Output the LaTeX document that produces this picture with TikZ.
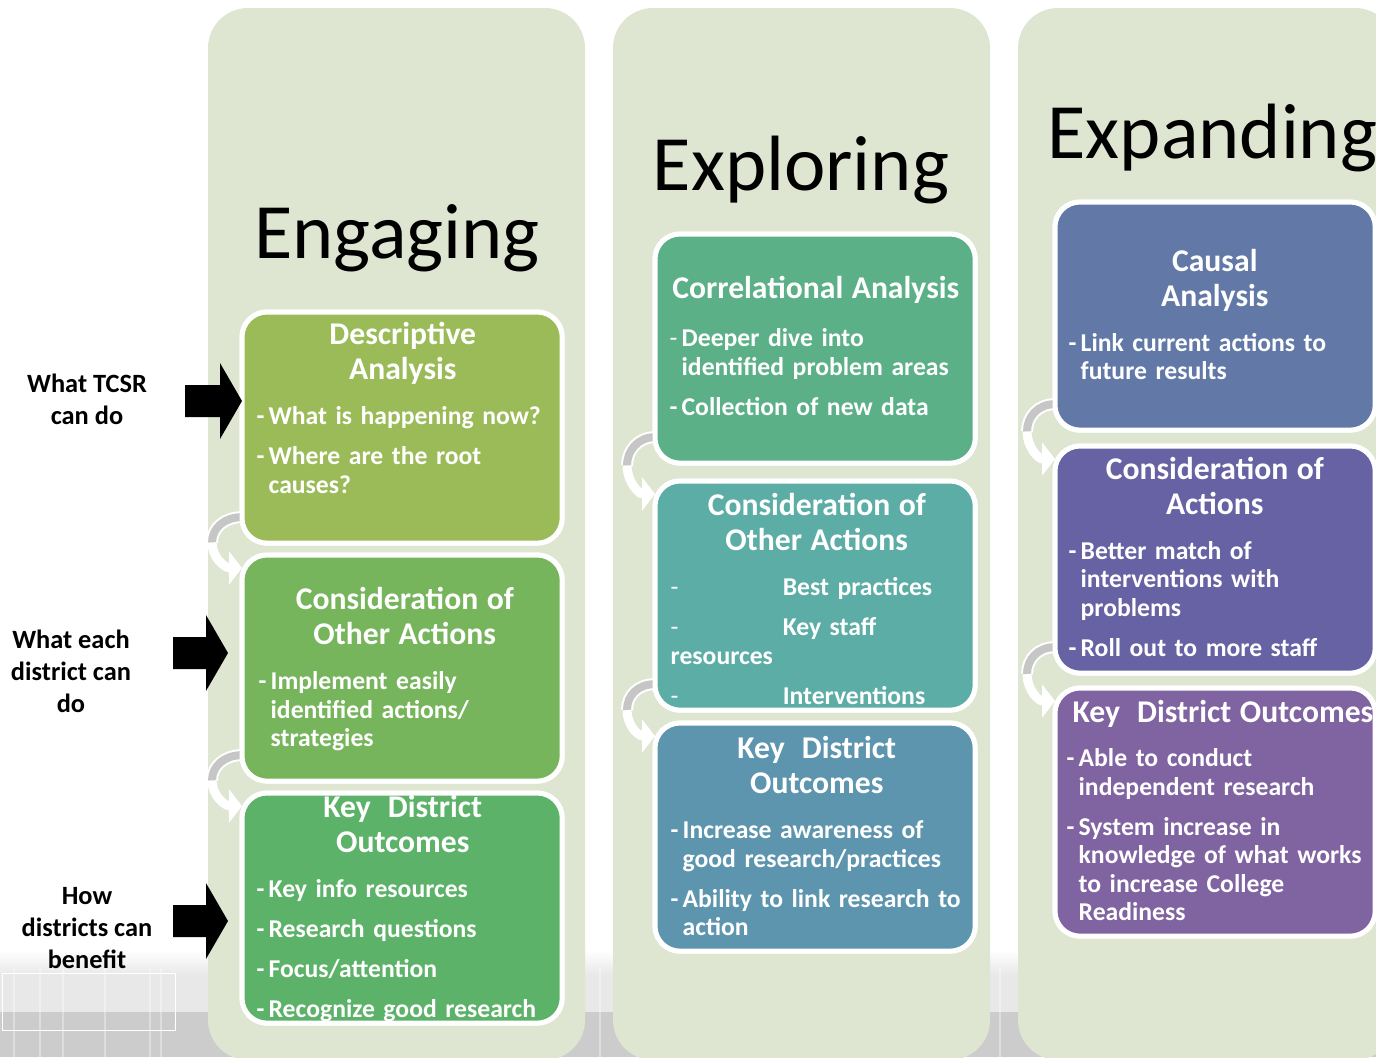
\documentclass[tikz,border=0pt]{standalone}
\usepackage{fontspec}
\setmainfont{Carlito}
\usepackage{tikz}
\usetikzlibrary{calc,arrows.meta}
\definecolor{colbg}{HTML}{DEE5D0}
\definecolor{descgreen}{HTML}{9BBB59}
\definecolor{othgreen}{HTML}{76B55B}
\definecolor{keygreen}{HTML}{5CB268}
\definecolor{corrgreen}{HTML}{5BB088}
\definecolor{othteal}{HTML}{5CADA6}
\definecolor{keyteal}{HTML}{5E95AE}
\definecolor{causblue}{HTML}{6279A8}
\definecolor{actviolet}{HTML}{6762A3}
\definecolor{keyviolet}{HTML}{8063A1}
\newcommand{\bulfont}{\fontsize{7.3}{8.1}\selectfont\bfseries\hyphenpenalty=10000}
\newcommand{\headfont}{\fontsize{9}{10}\selectfont\bfseries}
\tikzstyle{column}=[fill=colbg, rounded corners=.4cm]
\tikzstyle{stage}=[draw=white, line width=.05cm, rounded corners=.25cm, minimum width=3.2cm, anchor=north west, inner sep=0pt, outer sep=0pt]
\tikzstyle{stagetext}=[anchor=north west, inner sep=0pt, text width=3.05cm, align=left, text=white, font=\bulfont]
\tikzstyle{phase}=[anchor=base, inner sep=0pt, font=\fontsize{22.3}{26}\selectfont]
\tikzstyle{rowlabel}=[anchor=north, inner sep=0pt, align=center, font=\fontsize{7.5}{9.1}\selectfont\bfseries]
\newcommand{\stagehead}[1]{{\centering\rightskip=.13cm plus 1fil\headfont\strut#1\par}\vspace{1.4pt}}
\newcommand{\bul}[2][\bfseries]{\par\vspace{3.3pt}\hangindent=3.4pt\hangafter=1\noindent\makebox[3.4pt][l]{#1-}#2\par}
\newcommand{\gapbul}[1]{\par\vspace{3.3pt}\noindent\makebox[1.12cm][l]{\mdseries-}#1\par}
\newcommand{\blockarrow}[2]{
 \fill #1 -- ++(-22,-38) -- ++(0,22) -- ++(-#2,0) -- ++(0,32) -- ++(#2,0) -- ++(0,22) -- cycle;
}
\newcommand{\curl}[3]{
 \coordinate (ct) at ($(#1.south west)+(0,-26)$);
 \coordinate (ce) at ($(#2.north west)+(0,13)$);
 \coordinate (cm) at ($(ct)!.5!(ce)+(-#3,0)$);
 \draw[white, line width=.12cm] (ct) .. controls ($(ct)+(-17,0)$) and ($(cm)+(0,-15)$) .. (cm);
 \draw[gray!45, line width=.08cm] (ct) .. controls ($(ct)+(-17,0)$) and ($(cm)+(0,-15)$) .. (cm);
 \draw[white, line width=.09cm, -{Triangle[length=.13cm,width=.33cm]}] (cm) .. controls ($(cm)+(0,15)$) and ($(ce)+(-17,0)$) .. (ce);
}
\begin{document}
\begin{tikzpicture}[x=.01cm, y=-.01cm]
 \useasboundingbox (0,0) rectangle (1376,1057);
 \clip (0,0) rectangle (1376,1057);
%
 \shade[top color=white, bottom color=gray!18] (0,950) rectangle (1376,975);
 \fill[gray!18] (0,975) rectangle (1376,1012);
 \fill[gray!40] (0,1012) rectangle (1376,1057);
 \foreach \x in {14,40,63,105,150,161,320,470,600,1000,1290} {
  \draw[white, opacity=.35, line width=.02cm] (\x,968) -- (\x,1057);
 }
 \draw[white, line width=.01cm] (2,973) rectangle (175,1030);
%
 \fill[column] (208,8) rectangle (585,1060);
 \fill[column] (613,8) rectangle (990,1060);
 \fill[column] (1018,8) rectangle (1395,1060);
%
 \node[phase] (engaging) at (397,258) {Engaging};
 \node[phase] (exploring) at (801,190) {Exploring};
 \node[phase, anchor=base west] (expanding) at (1047,158) {Expanding};
%
 \path (242,312) coordinate (a1nw) (242,555) coordinate (a2nw) (242,793) coordinate (a3nw);
 \path (655,234) coordinate (b1nw) (655,481) coordinate (b2nw) (655,723) coordinate (b3nw);
 \path (1055,202) coordinate (c1nw) (1055,446) coordinate (c2nw) (1055,688) coordinate (c3nw);
 \path (a1nw) node[stage, minimum height=2.31cm] (a1) {};
 \path (a2nw) node[stage, minimum height=2.26cm] (a2) {};
 \path (a3nw) node[stage, minimum height=2.30cm] (a3) {};
 \path (b1nw) node[stage, minimum height=2.29cm] (b1) {};
 \path (b2nw) node[stage, minimum height=2.29cm] (b2) {};
 \path (b3nw) node[stage, minimum height=2.28cm] (b3) {};
 \path (c1nw) node[stage, minimum height=2.28cm] (c1) {};
 \path (c2nw) node[stage, minimum height=2.27cm] (c2) {};
 \path (c3nw) node[stage, minimum height=2.48cm] (c3) {};
%
 \curl{a1}{a2}{30}
 \curl{a2}{a3}{30}
 \curl{b1}{b2}{28}
 \curl{b2}{b3}{28}
 \curl{c1}{c2}{28}
 \curl{c2}{c3}{28}
%
 \path (a1nw) node[stage, minimum height=2.31cm, fill=descgreen] {};
 \path (a2nw) node[stage, minimum height=2.26cm, fill=othgreen] {};
 \path (a3nw) node[stage, minimum height=2.30cm, fill=keygreen] {};
 \path (b1nw) node[stage, minimum height=2.29cm, fill=corrgreen] {};
 \path (b2nw) node[stage, minimum height=2.29cm, fill=othteal] {};
 \path (b3nw) node[stage, minimum height=2.28cm, fill=keyteal] {};
 \path (c1nw) node[stage, minimum height=2.28cm, fill=causblue] {};
 \path (c2nw) node[stage, minimum height=2.27cm, fill=actviolet] {};
 \path (c3nw) node[stage, minimum height=2.48cm, fill=keyviolet] {};
%
 \node[stagetext] (a1t) at ($(a1.north west)+(14,7)$) {\stagehead{Descriptive\\Analysis}\bul{What is happening now?}\bul{Where are the root\newline causes?}};
 \node[stagetext] (a2t) at ($(a2.north west)+(16,29)$) {\stagehead{Consideration of\\Other Actions}\bul{Implement easily\newline identified actions/\newline strategies}};
 \node[stagetext] (a3t) at ($(a3.north west)+(14,-1)$) {\stagehead{Key~~District\\Outcomes}\bul{Key info resources}\bul{Research questions}\bul{Focus/attention}\bul{Recognize good research}};
 \node[stagetext] (b1t) at ($(b1.north west)+(14,39)$) {\stagehead{Correlational Analysis}\bul[\mdseries]{Deeper dive into\newline identified problem areas}\bul{Collection of new data}};
 \node[stagetext] (b2t) at ($(b2.north west)+(15,9)$) {\stagehead{Consideration of\\Other Actions}\gapbul{Best practices}\gapbul{Key staff\newline resources}\gapbul{Interventions}};
 \node[stagetext] (b3t) at ($(b3.north west)+(15,10)$) {\stagehead{Key~~District\\Outcomes}\bul{Increase awareness of\newline good research/practices}\bul{Ability to link research to\newline action}};
 \node[stagetext] (c1t) at ($(c1.north west)+(13,44)$) {\stagehead{Causal\\Analysis}\bul{Link current actions to\newline future results}};
 \node[stagetext] (c2t) at ($(c2.north west)+(13,8)$) {\stagehead{Consideration of\\Actions}\bul{Better match of\newline interventions with\newline problems}\bul{Roll out to more staff}};
 \node[stagetext] (c3t) at ($(c3.north west)+(11,9)$) {{\headfont\strut\hspace*{1.7pt}Key~~District~Outcomes\par}\vspace{0.2pt}\bul{Able to conduct\newline independent research}\bul{System increase in\newline knowledge of what works\newline to increase College\newline Readiness}};
%
 \node[rowlabel] (tcsr) at (87,369) {\strut What TCSR\\can do};
 \node[rowlabel] (each) at (71,625) {\strut What each\\district can\\do};
 \node[rowlabel] (benefit) at (87,881) {\strut How\\districts can\\benefit};
 \blockarrow{($(a1.west |- tcsr)+(0,4)$)}{35}
 \blockarrow{($(a2.west |- each)+(-14,-16)$)}{33}
 \blockarrow{($(a3.west |- benefit)+(-14,-4)$)}{33}
\end{tikzpicture}
\end{document}
